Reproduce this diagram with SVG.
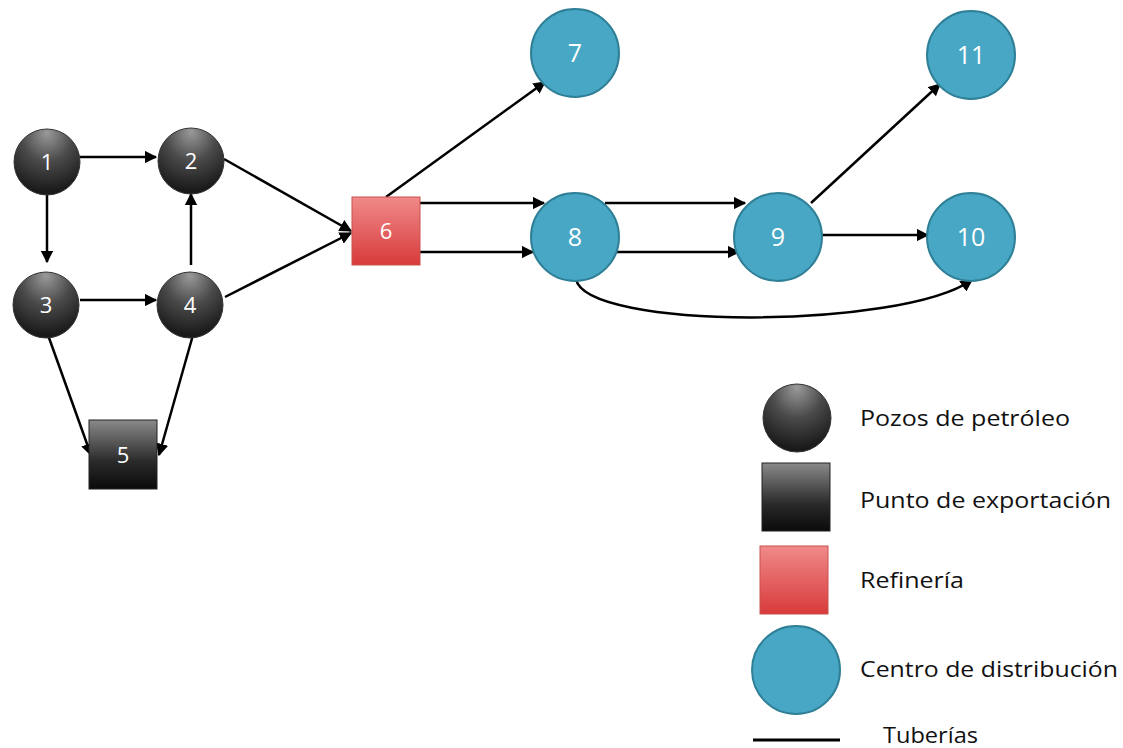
<svg xmlns="http://www.w3.org/2000/svg" width="1123" height="748" viewBox="0 0 1123 748">
<defs>
<radialGradient id="gSphere" cx="50%" cy="20%" r="75%" fx="50%" fy="5%">
<stop offset="0" stop-color="#9a9a9a"/>
<stop offset="0.5" stop-color="#4a4a4a"/>
<stop offset="1" stop-color="#1a1a1a"/>
</radialGradient>
<linearGradient id="gBlack" x1="0" y1="0" x2="0" y2="1">
<stop offset="0" stop-color="#8a8a8a"/>
<stop offset="0.6" stop-color="#2a2a2a"/>
<stop offset="1" stop-color="#0a0a0a"/>
</linearGradient>
<linearGradient id="gRed" x1="0" y1="0" x2="0" y2="1">
<stop offset="0" stop-color="#f08a8a"/>
<stop offset="1" stop-color="#d83a3a"/>
</linearGradient>
<marker id="arr" viewBox="0 0 10 10" refX="9" refY="5" markerWidth="5" markerHeight="5" orient="auto" markerUnits="strokeWidth">
<path d="M0,0 L10,5 L0,10 z" fill="#000"/>
</marker>
</defs>
<style>
.sph{fill:url(#gSphere);stroke:#333;stroke-width:1}
.blk{fill:url(#gBlack);stroke:#222;stroke-width:1}
.red{fill:url(#gRed);stroke:#c9504f;stroke-width:1}
.blu{fill:#47a7c4;stroke:#2f7f96;stroke-width:2}
.lbl{font-family:"Open Sans","Liberation Sans",sans-serif;font-size:22px;fill:#fff;text-anchor:middle}
.lblb{font-family:"Open Sans","Liberation Sans",sans-serif;font-size:25px;fill:#fff;text-anchor:middle}
.leg{font-family:"Open Sans","Liberation Sans",sans-serif;font-size:22px;fill:#111}
.e{stroke:#000;stroke-width:2.5;fill:none;marker-end:url(#arr)}
</style>
<rect width="1123" height="748" fill="#fff"/>
<g id="connectors">
<line class="e" x1="80" y1="157" x2="156" y2="157"/>
<line class="e" x1="47" y1="195" x2="47" y2="262"/>
<line class="e" x1="191" y1="265" x2="191" y2="194"/>
<line class="e" x1="80" y1="300" x2="156" y2="300"/>
<line class="e" x1="48" y1="335" x2="91" y2="455"/>
<line class="e" x1="193" y1="335" x2="159" y2="455"/>
<line class="e" x1="224" y1="159" x2="351" y2="231"/>
<line class="e" x1="225" y1="297" x2="351" y2="233"/>
<line class="e" x1="386" y1="197" x2="545" y2="82"/>
<line class="e" x1="420" y1="203" x2="544" y2="203"/>
<line class="e" x1="420" y1="252" x2="533" y2="252"/>
<line class="e" x1="605" y1="203" x2="745" y2="203"/>
<line class="e" x1="615" y1="252" x2="739" y2="252"/>
<line class="e" x1="811" y1="203" x2="940" y2="84"/>
<line class="e" x1="822" y1="235" x2="928" y2="235"/>
<path class="e" d="M576,279 C585,330 900,330 972,280"/>
</g>
<g id="n1"><circle class="sph" cx="47" cy="162" r="33"/><text class="lbl" x="47" y="170">1</text></g>
<g id="n2"><circle class="sph" cx="191" cy="161" r="33"/><text class="lbl" x="191" y="169">2</text></g>
<g id="n3"><circle class="sph" cx="46" cy="305" r="33"/><text class="lbl" x="46" y="313">3</text></g>
<g id="n4"><circle class="sph" cx="190" cy="305" r="33"/><text class="lbl" x="190" y="313">4</text></g>
<g id="n5"><rect class="blk" x="89" y="420" width="68" height="69"/><text class="lbl" x="123" y="463">5</text></g>
<g id="n6"><rect class="red" x="352" y="197" width="68" height="68"/><text class="lbl" x="386" y="239">6</text></g>
<g id="n7"><circle class="blu" cx="575" cy="53" r="44"/><text class="lblb" x="575" y="62">7</text></g>
<g id="n8"><circle class="blu" cx="575" cy="237" r="44"/><text class="lblb" x="575" y="246">8</text></g>
<g id="n9"><circle class="blu" cx="778" cy="237" r="44"/><text class="lblb" x="778" y="246">9</text></g>
<g id="n10"><circle class="blu" cx="971" cy="237" r="44"/><text class="lblb" x="971" y="246">10</text></g>
<g id="n11"><circle class="blu" cx="971" cy="55" r="44"/><text class="lblb" x="971" y="64">11</text></g>
<g id="legend">
<circle class="sph" cx="797" cy="418" r="34"/>
<text class="leg" x="860" y="426" textLength="210" lengthAdjust="spacingAndGlyphs">Pozos de petróleo</text>
<rect class="blk" x="762" y="463" width="68" height="68"/>
<text class="leg" x="860" y="508" textLength="251" lengthAdjust="spacingAndGlyphs">Punto de exportación</text>
<rect class="red" x="760" y="546" width="68" height="68"/>
<text class="leg" x="860" y="588" textLength="104" lengthAdjust="spacingAndGlyphs">Refinería</text>
<circle class="blu" cx="796" cy="670" r="44"/>
<text class="leg" x="860" y="677" textLength="258" lengthAdjust="spacingAndGlyphs">Centro de distribución</text>
<line x1="753" y1="740" x2="840" y2="740" stroke="#000" stroke-width="3"/>
<text class="leg" x="883" y="743" textLength="95" lengthAdjust="spacingAndGlyphs">Tuberías</text>
</g>
</svg>
